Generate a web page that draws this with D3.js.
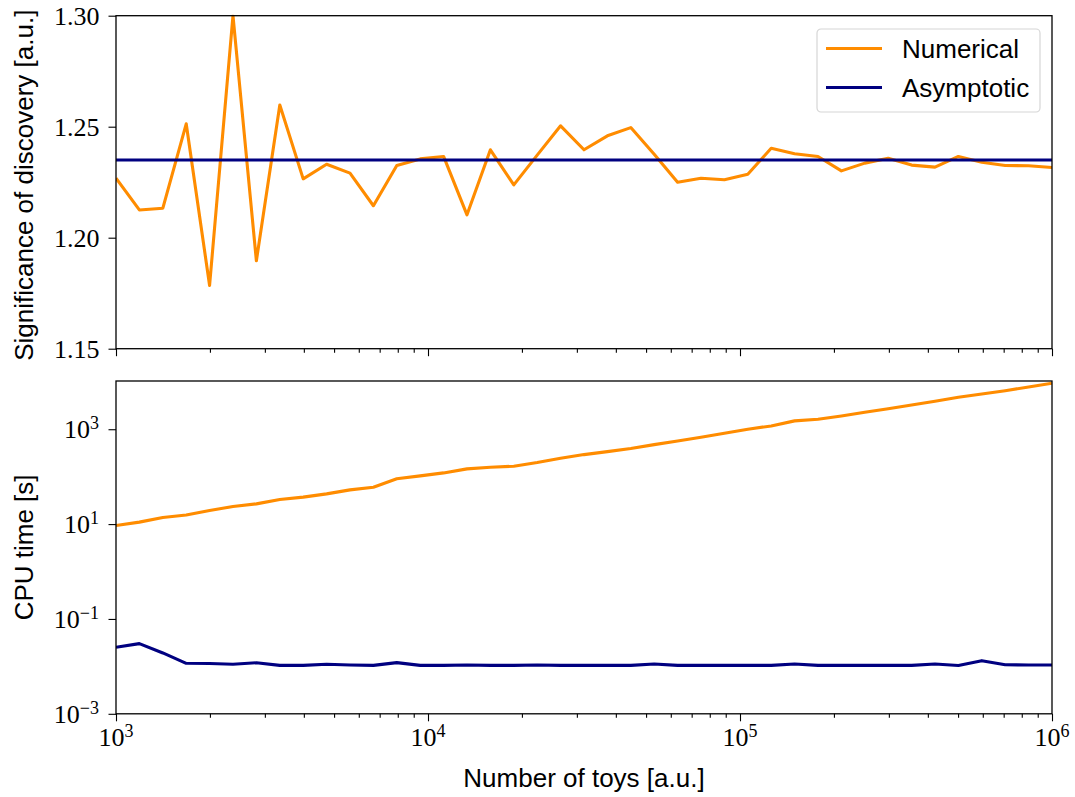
<!DOCTYPE html>
<html>
<head>
<meta charset="utf-8">
<script src="https://cdn.jsdelivr.net/npm/d3@7"></script>
<style>
  body { margin: 0; background: #fff; }
  .sans { font-family: "Liberation Sans", Arial, sans-serif; }
  .serif { font-family: "Liberation Serif", "DejaVu Serif", serif; }
</style>
</head>
<body>
<svg id="chart" width="1075" height="797"></svg>
<script>
// number of toys (x values)
const toys = [1000, 1188, 1413, 1679, 1995, 2371, 2818, 3350, 3981, 4732, 5623, 6683,
  7943, 9441, 11220, 13335, 15849, 18836, 22387, 26607, 31623, 37584, 44668, 53088,
  63096, 74989, 89125, 105925, 125893, 149624, 177828, 211349, 251189, 298538, 354813,
  421697, 501187, 595662, 707946, 841395, 1000000];

// significance of discovery
const sigNumerical = [1.2268, 1.2125, 1.2133, 1.2513, 1.1785, 1.300, 1.1896, 1.2598,
  1.2265, 1.2331, 1.2291, 1.2144, 1.2325, 1.2355, 1.2366, 1.2103, 1.2396, 1.2238,
  1.2372, 1.2504, 1.2396, 1.2459, 1.2496, 1.2376, 1.2250, 1.2268, 1.2261, 1.2286,
  1.2403, 1.2378, 1.2366, 1.2301, 1.2336, 1.2358, 1.2327, 1.2318, 1.2366, 1.2340,
  1.2325, 1.2324, 1.2316];
const sigAsymptotic = 1.235;

// CPU time [s]
const cpuNumerical = [9.35, 11.0, 13.8, 15.5, 19.3, 23.4, 26.7, 33, 37, 43.4, 52.7, 60,
  90, 104, 120, 146, 158, 166, 198, 245, 292, 337, 391, 474, 567, 679, 824, 1000,
  1175, 1500, 1620, 1905, 2280, 2715, 3250, 3885, 4720, 5535, 6500, 7780, 9300];
const cpuAsymptotic = [0.0252, 0.0302, 0.0192, 0.0116, 0.0115, 0.0111, 0.0119, 0.0105,
  0.0105, 0.0111, 0.0107, 0.0105, 0.0120, 0.0105, 0.0105, 0.0107, 0.0105, 0.0105,
  0.0107, 0.0105, 0.0105, 0.0105, 0.0105, 0.0112, 0.0105, 0.0105, 0.0105, 0.0105,
  0.0105, 0.0112, 0.0105, 0.0105, 0.0105, 0.0105, 0.0105, 0.0112, 0.0104, 0.0132,
  0.0108, 0.0107, 0.0107];

const sigTicks = [1.15, 1.20, 1.25, 1.30];
const cpuTicks = [1e-3, 1e-1, 1e1, 1e3];
const toyTicks = [1e3, 1e4, 1e5, 1e6];
const seriesNames = ["Numerical", "Asymptotic"];
const colors = { Numerical: "darkorange", Asymptotic: "navy" };

const svg = d3.select("#chart");
const left = 116, right = 1052;
const top1 = 15.7, bottom1 = 348.7;
const top2 = 381, bottom2 = 713.8;
const fontSize = "26px";
const lw = 3.1;

const x = d3.scaleLog().domain([1e3, 1e6]).range([left, right]);
const ySig = d3.scaleLinear().domain([1.15, 1.30]).range([bottom1, top1]);
const yCpu = d3.scaleLog().domain([1e-3, Math.pow(10, 4.017)]).range([bottom2, top2]);

// minor ticks for log x axis
const minorX = [];
for (let e = 3; e < 6; e++) {
  for (let m = 2; m <= 9; m++) minorX.push(m * Math.pow(10, e));
}

function powLabel(sel, v) {
  const e = Math.round(Math.log10(v));
  sel.text("");
  sel.append("tspan").text("10");
  sel.append("tspan").attr("dy", "-0.5em").style("font-size", "18px")
    .text(e < 0 ? "\u2212" + (-e) : e);
}

function drawXAxis(yPos, withLabels) {
  const g = svg.append("g").attr("transform", "translate(0," + yPos + ")");
  g.call(d3.axisBottom(x).tickValues(minorX).tickSize(4).tickFormat(""));
  const major = g.append("g");
  major.call(d3.axisBottom(x).tickValues(toyTicks).tickSize(7.5).tickFormat(""));
  g.selectAll(".domain").remove();
  g.selectAll("line").attr("stroke", "#000").attr("stroke-width", 1.1);
  if (withLabels) {
    toyTicks.forEach((t) => {
      g.append("text").attr("class", "serif")
        .attr("x", x(t)).attr("y", 32)
        .attr("text-anchor", "middle").attr("fill", "#000")
        .style("font-size", fontSize)
        .call(powLabel, t);
    });
  }
}

function frame(yTop, yBottom) {
  svg.append("rect")
    .attr("x", left).attr("y", yTop)
    .attr("width", right - left).attr("height", yBottom - yTop)
    .attr("fill", "none").attr("stroke", "#000").attr("stroke-width", 1.3);
}

const line = (yScale) => d3.line().x((d) => x(d[0])).y((d) => yScale(d[1]));

svg.append("defs").selectAll("clipPath")
  .data([[top1, bottom1], [top2, bottom2]])
  .enter().append("clipPath").attr("id", (d, i) => "clip" + i)
  .append("rect").attr("x", left).attr("y", (d) => d[0] - 1)
  .attr("width", right - left).attr("height", (d) => d[1] - d[0] + 2);

// ---- top panel ----
const p1 = svg.append("g").attr("clip-path", "url(#clip0)");
p1.append("path")
  .datum(toys.map((t, i) => [t, sigNumerical[i]]))
  .attr("d", line(ySig))
  .attr("fill", "none").attr("stroke", colors.Numerical).attr("stroke-width", lw)
  .attr("stroke-linejoin", "round");
p1.append("path")
  .datum([[1e3, sigAsymptotic], [1e6, sigAsymptotic]])
  .attr("d", line(ySig))
  .attr("fill", "none").attr("stroke", colors.Asymptotic).attr("stroke-width", lw);

const ay1 = svg.append("g").attr("transform", "translate(" + left + ",0)")
  .call(d3.axisLeft(ySig).tickValues(sigTicks).tickSize(7.5).tickPadding(9)
    .tickFormat(d3.format(".2f")));
ay1.select(".domain").remove();
ay1.selectAll("line").attr("stroke", "#000").attr("stroke-width", 1.1);
ay1.selectAll("text").attr("class", "serif").style("font-size", fontSize)
  .attr("fill", "#000").attr("dy", "0.34em");

drawXAxis(bottom1, false);
frame(top1, bottom1);

svg.append("text").attr("class", "sans")
  .attr("transform", "translate(33," + (top1 + bottom1 + 6) / 2 + ") rotate(-90)")
  .attr("text-anchor", "middle").style("font-size", fontSize)
  .text("Significance of discovery [a.u.]");

// legend
const lg = svg.append("g").attr("transform", "translate(817,29)");
lg.append("rect").attr("width", 223).attr("height", 83).attr("rx", 4)
  .attr("fill", "#fff").attr("fill-opacity", 0.8)
  .attr("stroke", "#d6d6d6").attr("stroke-width", 1.2);
seriesNames.forEach((name, i) => {
  const yy = 19.5 + i * 39;
  lg.append("line").attr("x1", 9).attr("x2", 65).attr("y1", yy).attr("y2", yy)
    .attr("stroke", colors[name]).attr("stroke-width", lw);
  lg.append("text").attr("class", "sans").attr("x", 85).attr("y", yy + 9.5)
    .style("font-size", fontSize).text(name);
});

// ---- bottom panel ----
const p2 = svg.append("g").attr("clip-path", "url(#clip1)");
p2.append("path")
  .datum(toys.map((t, i) => [t, cpuNumerical[i]]))
  .attr("d", line(yCpu))
  .attr("fill", "none").attr("stroke", colors.Numerical).attr("stroke-width", lw)
  .attr("stroke-linejoin", "round");
p2.append("path")
  .datum(toys.map((t, i) => [t, cpuAsymptotic[i]]))
  .attr("d", line(yCpu))
  .attr("fill", "none").attr("stroke", colors.Asymptotic).attr("stroke-width", lw)
  .attr("stroke-linejoin", "round");

const ay2 = svg.append("g").attr("transform", "translate(" + left + ",0)")
  .call(d3.axisLeft(yCpu).tickValues(cpuTicks).tickSize(7.5).tickFormat(""));
ay2.select(".domain").remove();
ay2.selectAll("line").attr("stroke", "#000").attr("stroke-width", 1.1);
cpuTicks.forEach((t) => {
  ay2.append("text").attr("class", "serif")
    .attr("x", -17).attr("y", yCpu(t) + 9)
    .attr("text-anchor", "end").attr("fill", "#000").style("font-size", fontSize)
    .call(powLabel, t);
});

drawXAxis(bottom2, true);
frame(top2, bottom2);

svg.append("text").attr("class", "sans")
  .attr("transform", "translate(33," + (top2 + bottom2) / 2 + ") rotate(-90)")
  .attr("text-anchor", "middle").style("font-size", fontSize)
  .text("CPU time [s]");

svg.append("text").attr("class", "sans")
  .attr("x", (left + right) / 2).attr("y", 787)
  .attr("text-anchor", "middle").style("font-size", fontSize)
  .text("Number of toys [a.u.]");
</script>
</body>
</html>
